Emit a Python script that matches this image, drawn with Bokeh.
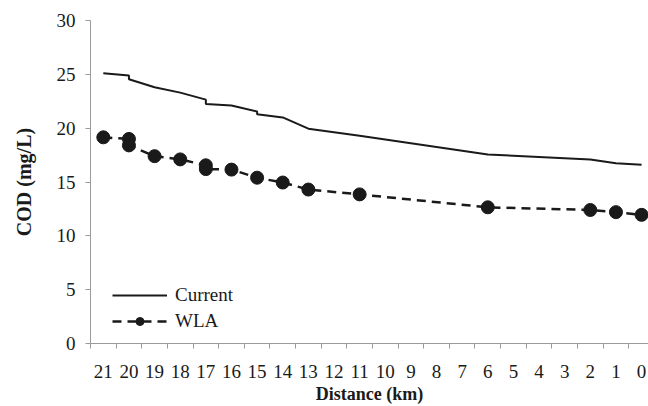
from bokeh.plotting import figure
from bokeh.models import Range1d, FixedTicker, Legend, LegendItem
from bokeh.embed import file_html
from bokeh.resources import INLINE

# Data
cur_x = [21, 20, 20, 19, 18, 17, 17, 16, 15, 15, 14, 13, 11, 6, 2, 1, 0]
cur_y = [25.1, 24.9, 24.55, 23.8, 23.3, 22.65, 22.25, 22.1, 21.55, 21.3, 21.0, 19.95, 19.3, 17.55, 17.1, 16.75, 16.6]

wla_x = [21, 20, 20, 19, 18, 17, 17, 16, 15, 14, 13, 11, 6, 2, 1, 0]
wla_y = [19.15, 19.0, 18.4, 17.4, 17.1, 16.55, 16.2, 16.15, 15.4, 14.95, 14.3, 13.85, 12.65, 12.4, 12.2, 11.95]

x_ticks = list(range(21, -1, -1))
x_minor = [t + 0.5 for t in range(21, -2, -1)]
y_ticks = [0, 5, 10, 15, 20, 25, 30]

FONT = "Liberation Serif"
TXT = "#1a1a1a"
AX = "#9a9a9a"

p = figure(width=648, height=406, output_backend="svg", toolbar_location=None,
           x_range=Range1d(21.5, -0.27), y_range=Range1d(0, 30),
           min_border_left=90, min_border_right=0, min_border_top=20, min_border_bottom=63)
p.outline_line_color = None
p.xgrid.visible = False
p.ygrid.visible = False
p.background_fill_color = "white"
p.border_fill_color = "white"

l1 = p.line(cur_x, cur_y, line_color="#1a1a1a", line_width=2)
l2 = p.line(wla_x, wla_y, line_color="#1a1a1a", line_width=2.5, line_dash="9 6")
s2 = p.scatter(wla_x, wla_y, size=13, fill_color="#1a1a1a", line_color="#1a1a1a")

# axes
xa = p.xaxis[0]
xa.ticker = FixedTicker(ticks=x_ticks, minor_ticks=x_minor)
xa.major_tick_out = 0
xa.major_tick_in = 0
xa.minor_tick_out = 5
xa.minor_tick_in = 0
xa.minor_tick_line_color = AX
xa.axis_line_color = AX
xa.major_label_text_font = FONT
xa.major_label_text_font_size = "19px"
xa.major_label_text_color = TXT
xa.major_label_standoff = 16
xa.axis_label = "Distance (km)"
xa.axis_label_text_font = FONT
xa.axis_label_text_font_style = "bold"
xa.axis_label_text_font_size = "18px"
xa.axis_label_text_color = TXT
xa.axis_label_standoff = 3

ya = p.yaxis[0]
ya.ticker = FixedTicker(ticks=y_ticks, minor_ticks=[])
ya.major_tick_out = 5
ya.major_tick_in = 0
ya.major_tick_line_color = AX
ya.axis_line_color = AX
ya.major_label_text_font = FONT
ya.major_label_text_font_size = "19px"
ya.major_label_text_color = TXT
ya.major_label_standoff = 10
ya.axis_label = "COD (mg/L)"
ya.axis_label_text_font = FONT
ya.axis_label_text_font_style = "bold"
ya.axis_label_text_font_size = "20px"
ya.axis_label_text_color = TXT
ya.axis_label_standoff = 19

legend = Legend(items=[LegendItem(label="Current", renderers=[l1]),
                       LegendItem(label="WLA", renderers=[l2, s2])],
                location=(22, 11))
legend.background_fill_alpha = 0
legend.border_line_color = None
legend.padding = 0
legend.margin = 0
legend.spacing = 4
legend.glyph_width = 55
legend.glyph_height = 20
legend.label_height = 20
legend.label_standoff = 8
legend.label_text_font = FONT
legend.label_text_font_size = "19px"
legend.label_text_color = TXT
p.add_layout(legend, "center")

open("out.html", "w").write(file_html(p, INLINE))
